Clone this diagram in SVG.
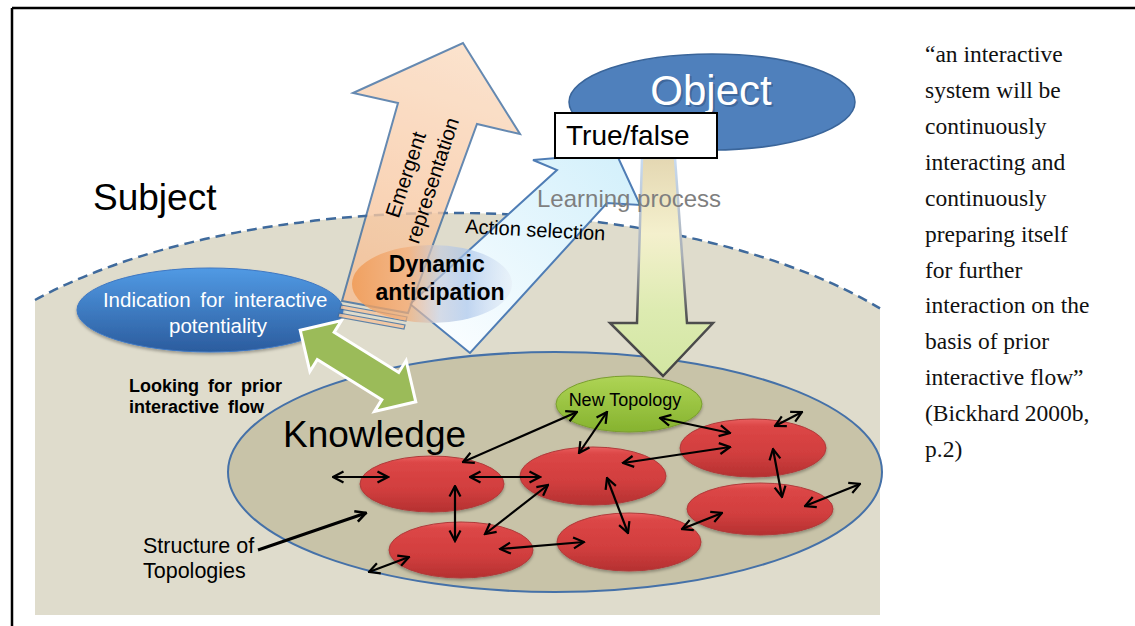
<svg xmlns="http://www.w3.org/2000/svg" width="1135" height="626" viewBox="0 0 1135 626">
  <defs>
    <style>
      .sans { font-family: "Liberation Sans", Arial, sans-serif; }
      .topo { fill: url(#redGrad); stroke: #B03A3A; stroke-width: 1; filter: url(#shadow); }
      .link { fill: none; stroke: #000; stroke-width: 2.2; marker-start: url(#tip); marker-end: url(#tip); }
      .quote { font-family: "Liberation Serif", "Times New Roman", serif; font-size: 23.5px; fill: #111; }
    </style>
    <linearGradient id="redGrad" x1="0" y1="0" x2="0" y2="1">
      <stop offset="0" stop-color="#EA6060"/>
      <stop offset="0.12" stop-color="#DC4646"/>
      <stop offset="0.6" stop-color="#D13E3E"/>
      <stop offset="1" stop-color="#B53131"/>
    </linearGradient>
    <linearGradient id="ntGrad" x1="0" y1="0" x2="0" y2="1">
      <stop offset="0" stop-color="#AED455"/>
      <stop offset="1" stop-color="#86B32F"/>
    </linearGradient>
    <linearGradient id="indGrad" x1="0" y1="0" x2="0" y2="1">
      <stop offset="0" stop-color="#519AE4"/>
      <stop offset="1" stop-color="#2B5C9E"/>
    </linearGradient>
    <linearGradient id="orangeGrad" gradientUnits="userSpaceOnUse" x1="463" y1="43" x2="375" y2="310">
      <stop offset="0" stop-color="#FBDCC2"/>
      <stop offset="1" stop-color="#F6BE92"/>
    </linearGradient>
    <linearGradient id="blueGrad" gradientUnits="userSpaceOnUse" x1="620" y1="150" x2="440" y2="330">
      <stop offset="0" stop-color="#D3F0FB"/>
      <stop offset="1" stop-color="#F9FDFF"/>
    </linearGradient>
    <linearGradient id="learnGrad" gradientUnits="userSpaceOnUse" x1="0" y1="157" x2="0" y2="376">
      <stop offset="0" stop-color="#E4D7B2"/>
      <stop offset="0.35" stop-color="#F4F0CD"/>
      <stop offset="0.7" stop-color="#DDEBB1"/>
      <stop offset="1" stop-color="#D2E6A2"/>
    </linearGradient>
    <linearGradient id="learnStroke" gradientUnits="userSpaceOnUse" x1="0" y1="157" x2="0" y2="376">
      <stop offset="0" stop-color="#C9DCF2"/>
      <stop offset="0.45" stop-color="#A9AFB6"/>
      <stop offset="0.75" stop-color="#4E4E4E"/>
      <stop offset="1" stop-color="#444"/>
    </linearGradient>
    <linearGradient id="dynGrad" x1="0" y1="0" x2="1" y2="0">
      <stop offset="0" stop-color="#F09A55" stop-opacity="0.85"/>
      <stop offset="0.35" stop-color="#F2AE7A" stop-opacity="0.7"/>
      <stop offset="0.55" stop-color="#C4CCDD" stop-opacity="0.7"/>
      <stop offset="0.72" stop-color="#A9C4EA" stop-opacity="0.7"/>
      <stop offset="1" stop-color="#E3EAF4" stop-opacity="0.45"/>
    </linearGradient>
    <filter id="shadow" x="-10%" y="-20%" width="120%" height="150%">
      <feDropShadow dx="0" dy="2" stdDeviation="1.5" flood-color="#000" flood-opacity="0.3"/>
    </filter>
    <marker id="tip" viewBox="0 0 14 14" refX="12.5" refY="7" markerWidth="14" markerHeight="14" markerUnits="userSpaceOnUse" orient="auto-start-reverse">
      <path d="M2,1.5 L12.5,7 L2,12.5" fill="none" stroke="#000" stroke-width="2.2"/>
    </marker>
    <marker id="bigTip" viewBox="0 0 14 14" refX="12.5" refY="7" markerWidth="14" markerHeight="14" markerUnits="userSpaceOnUse" orient="auto">
      <path d="M2,1.5 L12.5,7 L2,12.5" fill="none" stroke="#000" stroke-width="2.6"/>
    </marker>
  </defs>

  <rect width="1135" height="626" fill="#FFFFFF"/>

  <!-- page frame -->
  <g id="frame" stroke="#000" stroke-width="2.5" fill="none">
    <line x1="12" y1="8" x2="1135" y2="8"/>
    <line x1="12" y1="8" x2="12" y2="626"/>
  </g>

  <!-- subject area -->
  <g id="subject">
    <path d="M35,300 A530,230 0 0 1 880,308.4 L880,615 L35,615 Z" fill="#DFDCCC"/>
    <path d="M35,300 A530,230 0 0 1 880,308.4" fill="none" stroke="#3F6A9C" stroke-width="2.5" stroke-dasharray="10 6"/>
    <text class="sans" x="93" y="210" font-size="37" fill="#000">Subject</text>
  </g>

  <!-- knowledge area -->
  <g id="knowledge">
    <ellipse cx="555" cy="472" rx="327" ry="120" fill="#C8C3A8" stroke="#4571A8" stroke-width="2"/>
    <text class="sans" x="283" y="447" font-size="37" fill="#000">Knowledge</text>
  </g>

  <!-- topologies -->
  <g id="topo-1"><ellipse class="topo" cx="432" cy="484" rx="72" ry="28"/></g>
  <g id="topo-2"><ellipse class="topo" cx="461" cy="550" rx="72" ry="28"/></g>
  <g id="topo-3"><ellipse class="topo" cx="593" cy="476" rx="73" ry="29"/></g>
  <g id="topo-4"><ellipse class="topo" cx="629" cy="542" rx="72" ry="29"/></g>
  <g id="topo-5"><ellipse class="topo" cx="753" cy="448" rx="73" ry="29"/></g>
  <g id="topo-6"><ellipse class="topo" cx="760" cy="509" rx="73" ry="26"/></g>
  <g id="new-topology">
    <ellipse cx="629" cy="404" rx="73" ry="28" fill="url(#ntGrad)" stroke="#7A9E2E" stroke-width="1" filter="url(#shadow)"/>
    <text class="sans" x="625" y="406" font-size="18" text-anchor="middle" fill="#000">New Topology</text>
  </g>

  <!-- links between topologies -->
  <g id="connectors">
    <line class="link" x1="333" y1="477" x2="388" y2="477"/>
    <line class="link" x1="470" y1="477" x2="540" y2="477"/>
    <line class="link" x1="463" y1="462" x2="577" y2="412"/>
    <line class="link" x1="455" y1="486" x2="455" y2="541"/>
    <line class="link" x1="485" y1="534" x2="548" y2="485"/>
    <line class="link" x1="500" y1="549" x2="584" y2="542"/>
    <line class="link" x1="369" y1="572" x2="409" y2="557"/>
    <line class="link" x1="579" y1="453" x2="607" y2="412"/>
    <line class="link" x1="607" y1="478" x2="628" y2="533"/>
    <line class="link" x1="623" y1="463" x2="730" y2="447"/>
    <line class="link" x1="660" y1="418" x2="730" y2="433"/>
    <line class="link" x1="775" y1="426" x2="802" y2="412"/>
    <line class="link" x1="773" y1="449" x2="782" y2="497"/>
    <line class="link" x1="805" y1="506" x2="860" y2="484"/>
    <line class="link" x1="682" y1="529" x2="722" y2="513"/>
    <line x1="258" y1="550" x2="366" y2="513" stroke="#000" stroke-width="3" marker-end="url(#bigTip)"/>
  </g>

  <g id="structure-label">
    <text class="sans" font-size="21.5" fill="#000">
      <tspan x="143" y="553">Structure of</tspan>
      <tspan x="143" y="578">Topologies</tspan>
    </text>
  </g>

  <!-- indication for interactive potentiality -->
  <g id="indication">
    <ellipse cx="210" cy="310" rx="133" ry="42" fill="url(#indGrad)" stroke="#3E77C2" stroke-width="1" filter="url(#shadow)"/>
    <text class="sans" font-size="20.5" fill="#FFFFFF" text-anchor="middle">
      <tspan x="218" y="307" word-spacing="4">Indication for interactive</tspan>
      <tspan x="218" y="333">potentiality</tspan>
    </text>
  </g>

  <!-- looking for prior interactive flow -->
  <g id="looking">
    <polygon transform="translate(358,366) rotate(31.8)" points="-68,0 -38,-30 -38,-16 38,-16 38,-30 68,0 38,30 38,16 -38,16 -38,30" fill="#9BBB59" stroke="#FFFFFF" stroke-width="3" stroke-linejoin="miter"/>
    <text class="sans" font-size="18" font-weight="bold" fill="#000" word-spacing="4">
      <tspan x="129" y="392">Looking for prior</tspan>
      <tspan x="129" y="413">interactive flow</tspan>
    </text>
  </g>

  <!-- action selection -->
  <g id="action-selection">
    <polygon points="470,353 410,304 557,170 533,160 616,153 640,205 607,203" fill="url(#blueGrad)" stroke="#4F7DB5" stroke-width="2" stroke-linejoin="miter"/>
  </g>

  <!-- emergent representation -->
  <g id="emergent-representation">
    <g opacity="0.8">
      <polygon points="463,43 520,134 477,124 408,313 342,301 398,103 353,93" fill="url(#orangeGrad)" stroke="#3F6C9E" stroke-width="2" stroke-linejoin="miter"/>
      <polygon points="341,305 407,317 406,321 340,309" fill="#F6C49C" stroke="#3F6C9E" stroke-width="1.2"/>
      <polygon points="339,313 405,325 404,329 338,317" fill="#F6C49C" stroke="#3F6C9E" stroke-width="1.2"/>
    </g>
    <text class="sans" font-size="20.5" fill="#000" text-anchor="middle" transform="translate(419,176) rotate(-71.8)">
      <tspan x="0" y="-6">Emergent</tspan>
      <tspan x="0" y="21">representation</tspan>
    </text>
  </g>

  <!-- dynamic anticipation -->
  <g id="dynamic-anticipation">
    <ellipse cx="432" cy="284" rx="80" ry="39" fill="url(#dynGrad)"/>
    <text class="sans" font-size="23" font-weight="bold" fill="#000" text-anchor="middle">
      <tspan x="440" y="272">Dynamic</tspan>
      <tspan x="440" y="300">anticipation</tspan>
    </text>
  </g>

  <!-- object -->
  <g id="object">
    <ellipse cx="712" cy="102" rx="143" ry="48" fill="#4F80BC" stroke="#3A659A" stroke-width="1.5"/>
    <text class="sans" x="713" y="107" font-size="42" text-anchor="middle" fill="#1F3D66" opacity="0.35">Object</text>
    <text class="sans" x="711" y="105" font-size="42" text-anchor="middle" fill="#FFFFFF">Object</text>
  </g>

  <!-- learning process -->
  <g id="learning-process">
    <polygon points="642,158 675,158 687,323 713,323 663,376 610,323 637,323" fill="url(#learnGrad)" stroke="url(#learnStroke)" stroke-width="2.5" stroke-linejoin="miter"/>
  </g>

  <g id="true-false">
    <rect x="555" y="113" width="162" height="45" fill="#FFFFFF" stroke="#000" stroke-width="2"/>
    <text class="sans" x="566" y="145" font-size="28" fill="#000">True/false</text>
  </g>

  <g id="arrow-labels">
    <text class="sans" font-size="20" fill="#000" transform="translate(465,233) rotate(3)">Action selection</text>
    <text class="sans" x="537" y="207" font-size="24" fill="#7F7F7F">Learning process</text>
  </g>

  <!-- citation -->
  <g id="quote">
    <text class="quote">
      <tspan x="925" y="62">“an interactive</tspan>
      <tspan x="925" y="98">system will be</tspan>
      <tspan x="925" y="134">continuously</tspan>
      <tspan x="925" y="170">interacting and</tspan>
      <tspan x="925" y="206">continuously</tspan>
      <tspan x="925" y="242">preparing itself</tspan>
      <tspan x="925" y="278">for further</tspan>
      <tspan x="925" y="313">interaction on the</tspan>
      <tspan x="925" y="349">basis of prior</tspan>
      <tspan x="925" y="385">interactive flow”</tspan>
      <tspan x="925" y="421">(Bickhard 2000b,</tspan>
      <tspan x="925" y="457">p.2)</tspan>
    </text>
  </g>
</svg>
